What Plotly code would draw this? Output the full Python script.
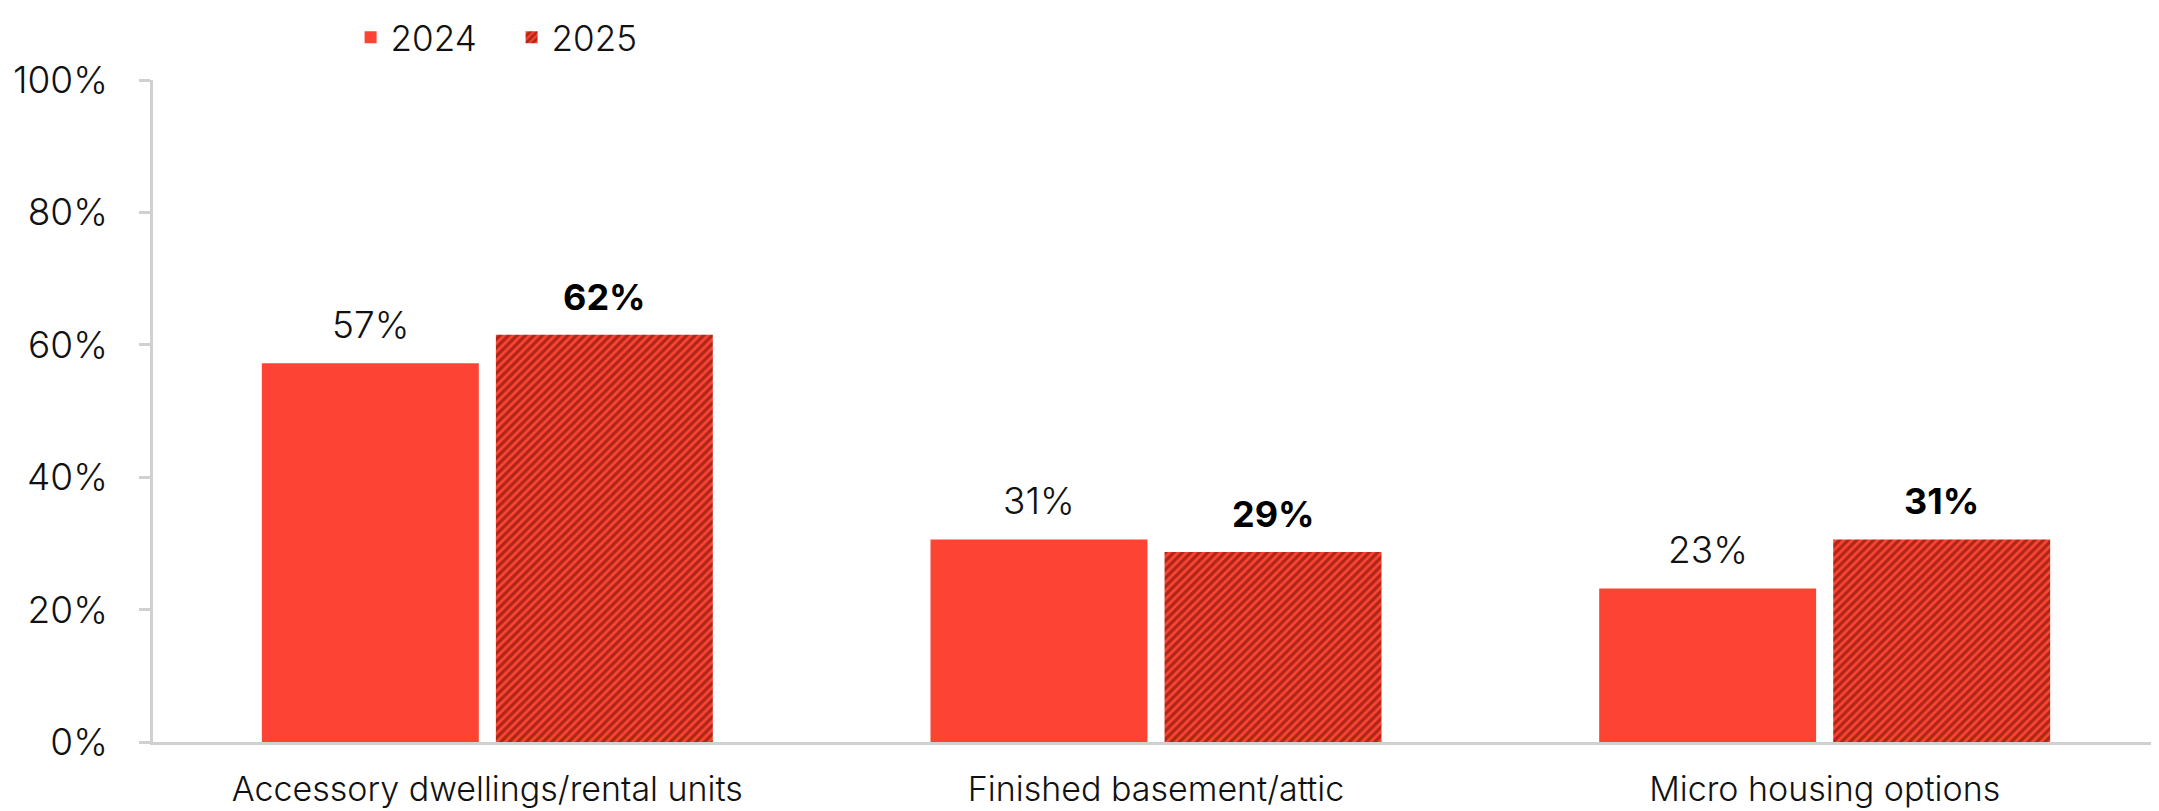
import plotly.graph_objects as go

categories = ["Accessory dwellings/rental units", "Finished basement/attic", "Micro housing options"]
series_names = ["2024", "2025"]
values_2024 = [0.572, 0.306, 0.232]
values_2025 = [0.615, 0.287, 0.306]
labels_2024 = ["57%", "31%", "23%"]
labels_2025 = ["62%", "29%", "31%"]

RED = "#FD4434"
DARK = "#600800"
AXIS = "#D0D0D0"
FONT = "Inter"
BARGAP = 0.30
BARGROUPGAP = 0.073

fig = go.Figure()
fig.add_trace(go.Bar(
    x=categories, y=values_2024, name=series_names[0],
    marker=dict(color=RED, line=dict(width=0)),
))
fig.add_trace(go.Bar(
    x=categories, y=values_2025, name=series_names[1],
    marker=dict(color=RED, line=dict(width=0),
                pattern=dict(shape="/", fgcolor=DARK, bgcolor=RED, size=6, solidity=0.55)),
))

off = (1 - BARGAP) / 4
annotations = []
for i, (v, t) in enumerate(zip(values_2024, labels_2024)):
    annotations.append(dict(x=i - off, y=v, xref="x", yref="y", text=t, showarrow=False,
                            yanchor="bottom", yshift=14,
                            font=dict(family=FONT, size=37, color="#111111", weight=300)))
for i, (v, t) in enumerate(zip(values_2025, labels_2025)):
    annotations.append(dict(x=i + off, y=v, xref="x", yref="y", text="<b>" + t + "</b>", showarrow=False,
                            yanchor="bottom", yshift=14,
                            font=dict(family=FONT, size=36, color="#000000")))

fig.update_layout(
    width=2151, height=803,
    margin=dict(l=145, r=0, t=72, b=69, autoexpand=False),
    paper_bgcolor="white", plot_bgcolor="white",
    barmode="group", bargap=BARGAP, bargroupgap=BARGROUPGAP,
    font=dict(family=FONT, size=35, color="#111111", weight=300),
    showlegend=True,
    legend=dict(orientation="h", x=0.0985, y=1.0, xanchor="left", yanchor="top",
                yref="container", tracegroupgap=0, itemwidth=30,
                font=dict(family=FONT, size=35, color="#111111", weight=300),
                entrywidth=116, entrywidthmode="pixels", bgcolor="rgba(0,0,0,0)"),
    annotations=annotations,
)
fig.update_yaxes(range=[0, 1], tickvals=[0, 0.2, 0.4, 0.6, 0.8, 1.0], tickformat=".0%",
                 showgrid=False, zeroline=False, showline=True, linecolor=AXIS, linewidth=2.5,
                 ticks="outside", ticklen=11, tickwidth=2.5, tickcolor=AXIS,
                 ticklabelstandoff=24,
                 tickfont=dict(family=FONT, size=37, color="#111111", weight=300))
fig.update_xaxes(showgrid=False, zeroline=False, showline=True, linecolor=AXIS, linewidth=2.5,
                 ticks="", ticklabelstandoff=15,
                 tickfont=dict(family=FONT, size=34, color="#111111", weight=300))

fig.write_html("out.html")
